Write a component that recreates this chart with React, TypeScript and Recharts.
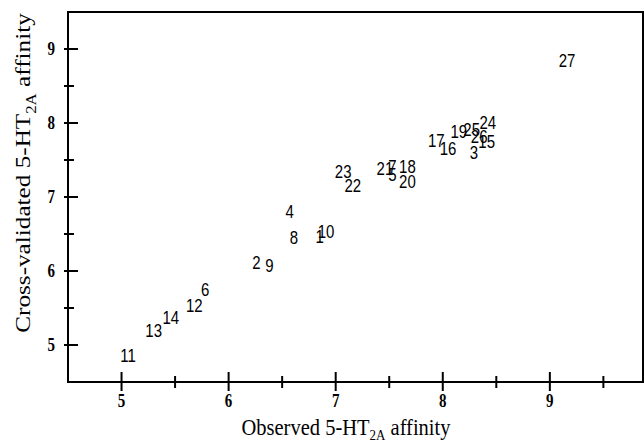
import { ScatterChart, Scatter, XAxis, YAxis, ReferenceArea } from "recharts";

const compounds = [
  "1", "2", "3", "4", "5", "6", "7", "8", "9", "10", "11", "12", "13", "14",
  "15", "16", "17", "18", "19", "20", "21", "22", "23", "24", "25", "26", "27",
];
const observed = [
  6.85, 6.26, 8.29, 6.57, 7.53, 5.78, 7.53, 6.61, 6.38, 6.91, 5.06, 5.68, 5.3, 5.46,
  8.41, 8.05, 7.94, 7.67, 8.15, 7.67, 7.46, 7.16, 7.07, 8.42, 8.27, 8.34, 9.16,
];
const predicted = [
  6.46, 6.11, 7.6, 6.81, 7.31, 5.75, 7.41, 6.45, 6.08, 6.54, 4.86, 5.54, 5.19, 5.37,
  7.75, 7.66, 7.77, 7.41, 7.88, 7.21, 7.39, 7.16, 7.34, 8.0, 7.91, 7.82, 8.84,
];
const xTicks = [5, 5.5, 6, 6.5, 7, 7.5, 8, 8.5, 9, 9.5];
const yTicks = [5, 5.5, 6, 6.5, 7, 7.5, 8, 8.5, 9];
const xDomain = [4.5, 9.87];
const yDomain = [4.5, 9.5];

const serif = "'Liberation Serif', 'DejaVu Serif', serif";
const sans = "'Liberation Sans', Arial, sans-serif";

// plot frame (matches margin + axis sizes below)
const AXIS_X = 68;
const AXIS_Y = 382;

const data = compounds.map((id, i) => ({ id, observed: observed[i], predicted: predicted[i] }));

function XTick(props: any) {
  const { x, payload } = props;
  const major = Number.isInteger(payload.value);
  return (
    <g>
      <line x1={x} x2={x} y1={AXIS_Y - (major ? 10 : 6)} y2={AXIS_Y + (major ? 9 : 6)} stroke="#000" strokeWidth={2} />
      {major && (
        <text
          transform={`translate(${x},${AXIS_Y + 25}) scale(1,1.2)`}
          textAnchor="middle"
          fontFamily={serif}
          fontSize={15}
          fontWeight="bold"
          fill="#000"
        >
          {payload.value}
        </text>
      )}
    </g>
  );
}

function YTick(props: any) {
  const { y, payload } = props;
  const major = Number.isInteger(payload.value);
  return (
    <g>
      <line x1={AXIS_X - 4} x2={AXIS_X + (major ? 10 : 6)} y1={y} y2={y} stroke="#000" strokeWidth={2} />
      {major && (
        <text
          transform={`translate(${AXIS_X - 13},${y + 6}) scale(1,1.2)`}
          textAnchor="end"
          fontFamily={serif}
          fontSize={15}
          fontWeight="bold"
          fill="#000"
        >
          {payload.value}
        </text>
      )}
    </g>
  );
}

function LabelShape(props: any) {
  const { cx, cy, payload } = props;
  return (
    <text
      transform={`translate(${cx},${cy}) scale(1,1.2)`}
      dy="0.36em"
      textAnchor="middle"
      fontFamily={sans}
      fontSize={15}
      fill="#000"
    >
      {payload.id}
    </text>
  );
}

function XTitle() {
  return (
    <text transform="translate(346,435) scale(1,1.15)" textAnchor="middle" fontFamily={serif} fontSize={20.5} fill="#000">
      Observed 5-HT
      <tspan fontSize={13} dy={4}>2A</tspan>
      <tspan dy={-4}> affinity</tspan>
    </text>
  );
}

function YTitle() {
  return (
    <text
      transform="translate(30,173) rotate(-90) scale(1.2,1)"
      textAnchor="middle"
      fontFamily={serif}
      fontSize={21}
      fill="#000"
    >
      Cross-validated 5-HT
      <tspan fontSize={14} dy={6}>2A</tspan>
      <tspan dy={-6}> affinity</tspan>
    </text>
  );
}

export default function App() {
  return (
    <div style={{ position: "absolute", left: 0, top: 0, width: 644, height: 443, background: "#fff" }}>
      <ScatterChart width={644} height={443} margin={{ top: 12, right: 1, bottom: 0, left: 0 }}>
        <XAxis
          type="number"
          dataKey="observed"
          domain={xDomain}
          ticks={xTicks}
          interval={0}
          allowDataOverflow
          height={61}
          tickSize={0}
          tickMargin={0}
          tickLine={false}
          axisLine={{ stroke: "#000", strokeWidth: 2 }}
          tick={<XTick />}
          label={{ content: () => <XTitle /> }}
        />
        <YAxis
          type="number"
          dataKey="predicted"
          domain={yDomain}
          ticks={yTicks}
          interval={0}
          allowDataOverflow
          width={AXIS_X}
          tickSize={0}
          tickMargin={0}
          tickLine={false}
          axisLine={{ stroke: "#000", strokeWidth: 2 }}
          tick={<YTick />}
          label={{ content: () => <YTitle /> }}
        />
        <ReferenceArea
          x1={xDomain[0]}
          x2={xDomain[1]}
          y1={yDomain[0]}
          y2={yDomain[1]}
          fill="none"
          fillOpacity={0}
          stroke="#000"
          strokeWidth={2}
          ifOverflow="visible"
        />
        <Scatter data={data} shape={<LabelShape />} isAnimationActive={false} />
      </ScatterChart>
    </div>
  );
}
